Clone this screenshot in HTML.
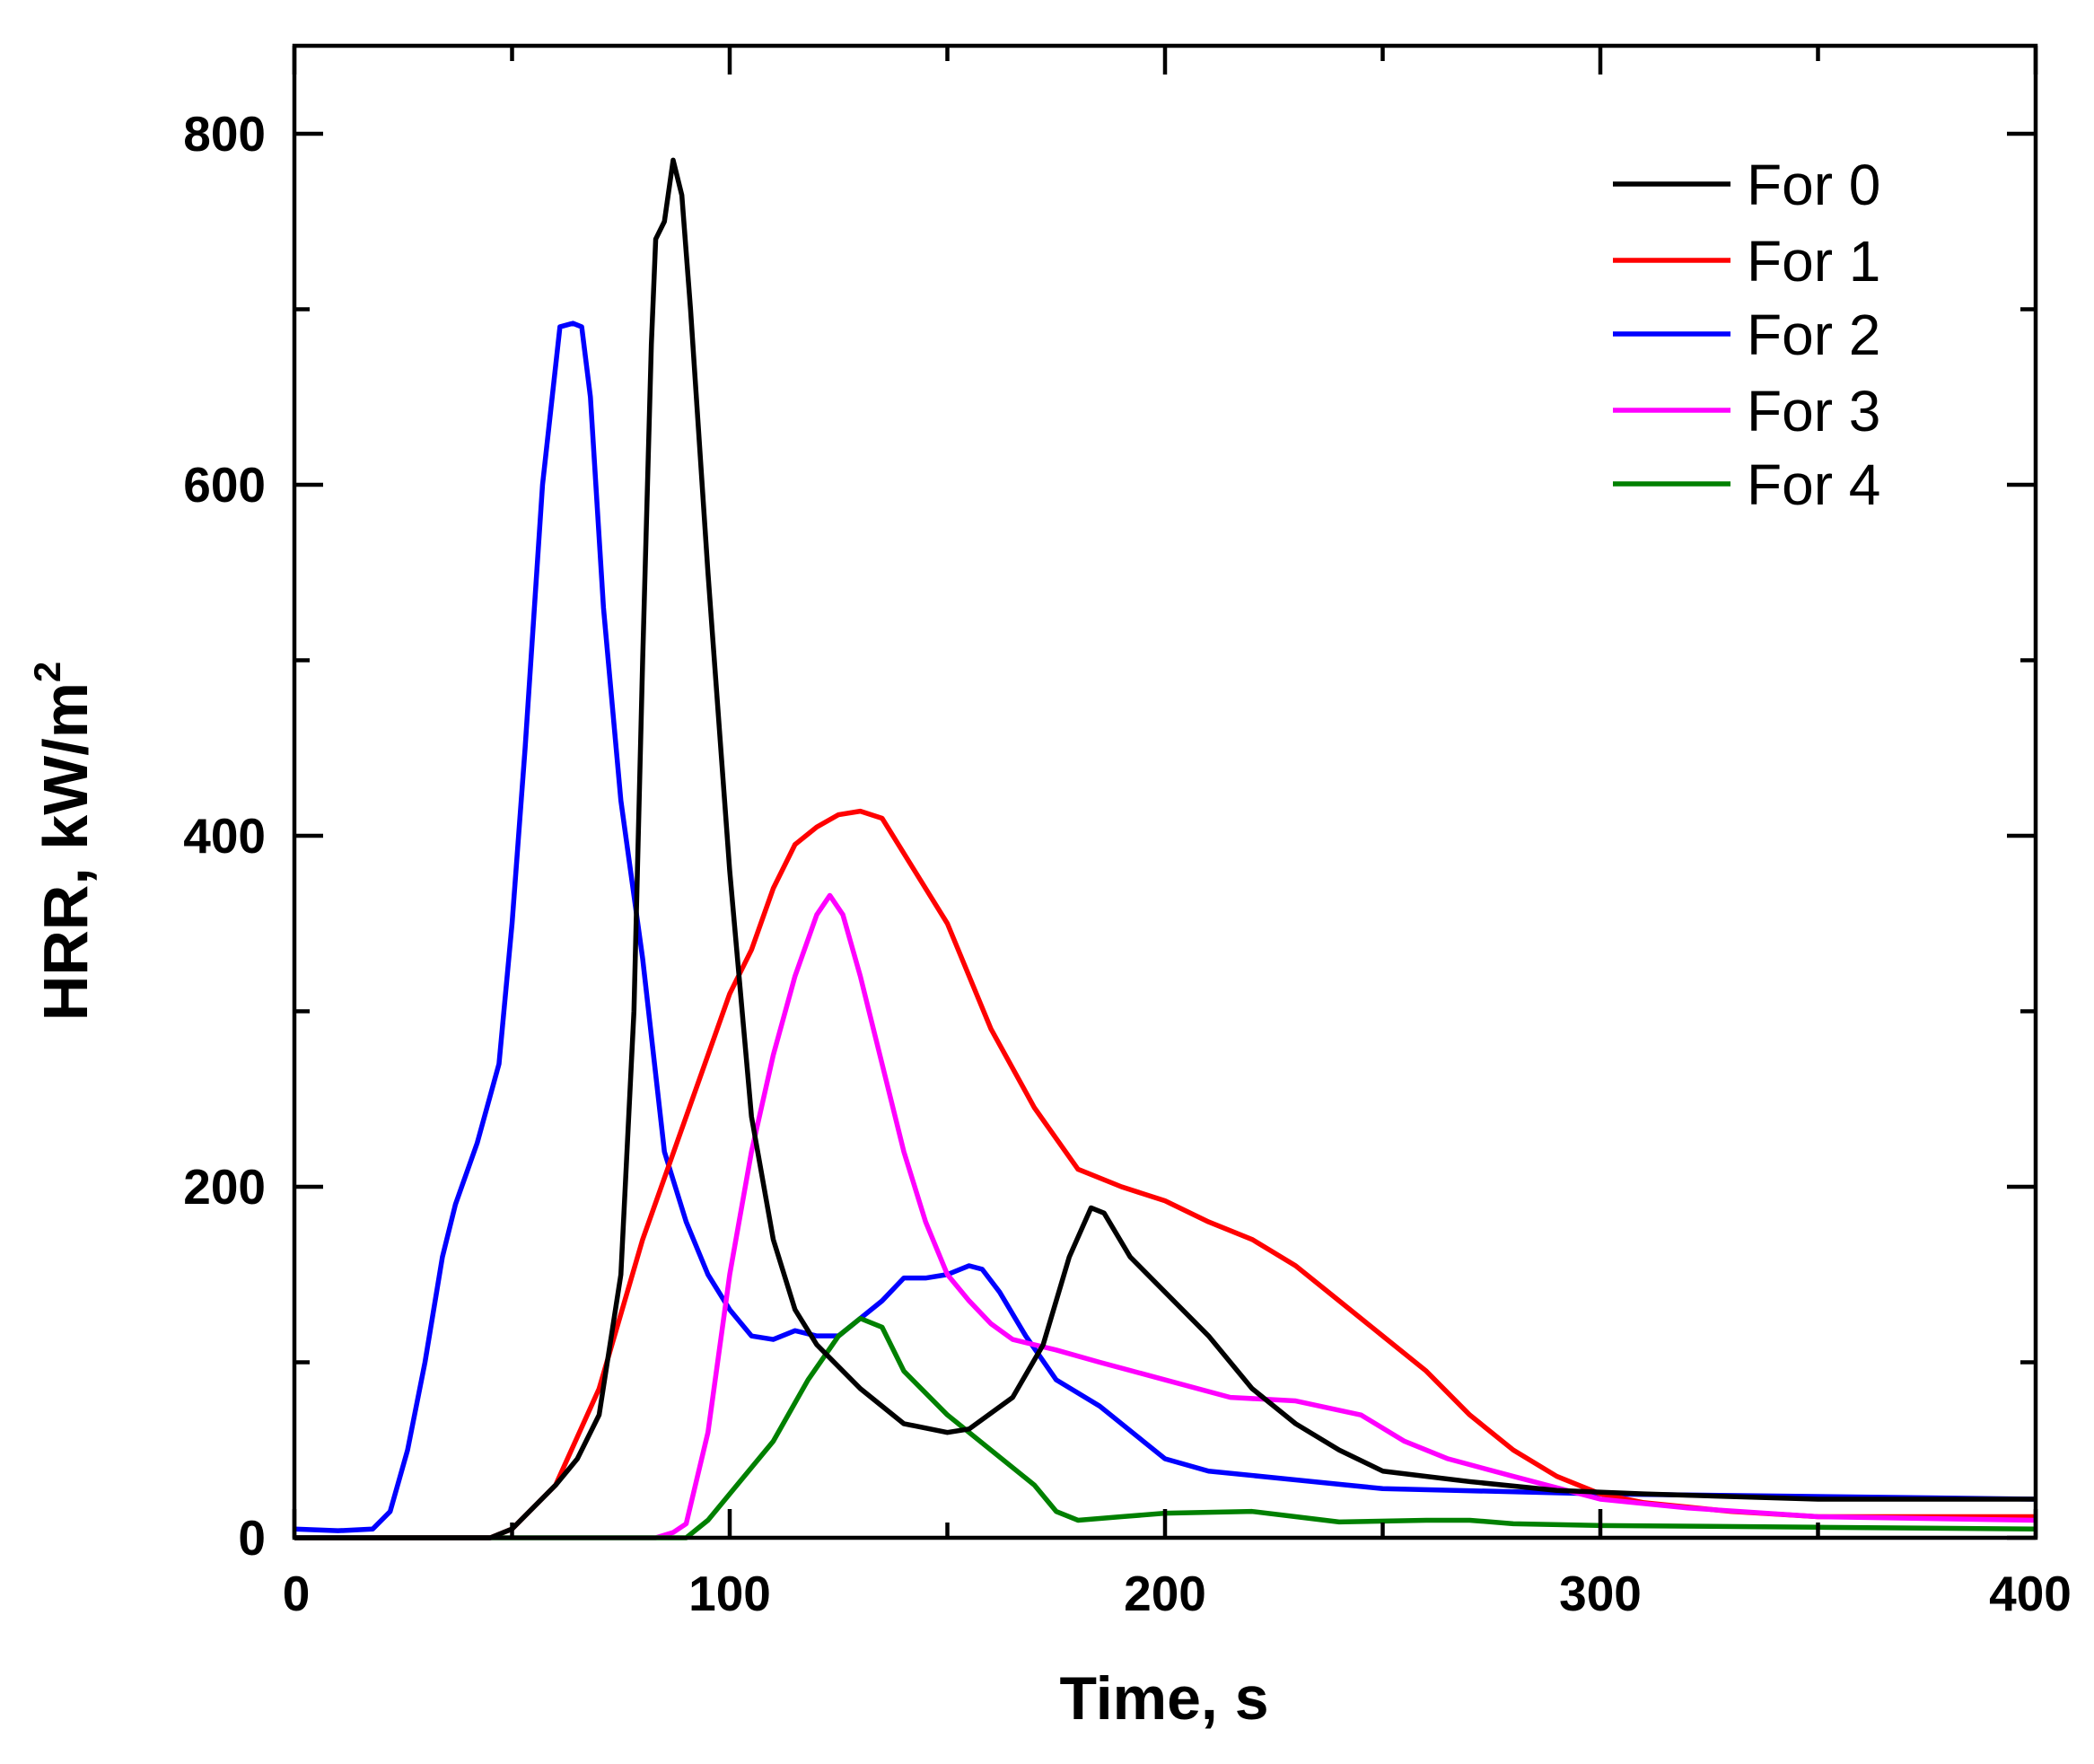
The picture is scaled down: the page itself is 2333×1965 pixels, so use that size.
<!DOCTYPE html>
<html><head><style>body{margin:0;background:#fff}svg{display:block}</style></head><body>
<svg width="2333" height="1965" xmlns="http://www.w3.org/2000/svg" font-family="Liberation Sans, Arial, sans-serif">
<rect width="2333" height="1965" fill="#fff"/>
<g transform="translate(328,1713) scale(4.85,-1.955)" fill="none" stroke-width="5.5" stroke-linejoin="round">
<polyline vector-effect="non-scaling-stroke" stroke="#0000ff" points="0,5 10,4 18,5 22,15 26,50 30,100 34,160 37,190 42,225 47,270 50,350 53,450 57,600 61,690 64,692 66,690 68,650 71,530 75,420 80,330 85,220 90,180 95,150 100,130 105,115 110,113 115,118 120,115 125,115 130,125 135,135 140,148 145,148 150,150 155,155 158,153 162,140 168,115 175,90 185,75 195,55 200,45 210,38 230,33 250,28 300,25 400,22"/>
<polyline vector-effect="non-scaling-stroke" stroke="#ff0000" points="0,0 45,0 50,5 60,30 70,85 80,170 90,240 100,310 105,335 110,370 115,395 120,405 125,412 130,414 135,410 140,390 150,350 160,290 170,245 180,210 190,200 200,192 210,180 220,170 230,155 240,135 250,115 260,95 270,70 280,50 290,35 300,25 310,20 330,15 350,12 400,12"/>
<polyline vector-effect="non-scaling-stroke" stroke="#ff00ff" points="0,0 83,0 87,3 90,8 95,60 100,150 105,220 110,275 115,320 120,355 123,366 126,355 130,320 135,270 140,220 145,180 150,150 155,135 160,122 165,113 175,107 185,100 200,90 215,80 230,78 245,70 255,55 265,45 280,35 300,22 320,17 350,12 400,10"/>
<polyline vector-effect="non-scaling-stroke" stroke="#008000" points="0,0 90,0 95,10 100,25 110,55 118,90 125,115 130,125 135,120 140,95 150,70 160,50 170,30 175,15 180,10 190,12 200,14 220,15 230,12 240,9 260,10 270,10 280,8 300,7 350,6 400,5"/>
<polyline vector-effect="non-scaling-stroke" stroke="#000000" points="0,0 45,0 50,5 60,30 65,45 70,70 75,150 78,300 80,500 82,680 83,740 85,750 87,785 89,765 91,700 95,550 100,380 105,240 110,170 115,130 120,110 130,85 140,65 150,60 155,62 165,80 172,110 178,160 183,188 186,185 192,160 200,140 210,115 220,85 230,65 240,50 250,38 270,32 290,27 310,25 350,22 400,22"/>
</g>
<g stroke="#000" stroke-width="4.5" fill="none">
<rect x="328" y="51" width="1940" height="1662"/>
<path d="M328,1713v-32M570.5,1713v-17M813,1713v-32M1055.5,1713v-17M1298,1713v-32M1540.5,1713v-17M1783,1713v-32M2025.5,1713v-17M2268,1713v-32
M328,51v32M570.5,51v17M813,51v32M1055.5,51v17M1298,51v32M1540.5,51v17M1783,51v32M2025.5,51v17M2268,51v32"/>
<path d="M328,1713h32M328,1517.5h17M328,1322h32M328,1126.5h17M328,931h32M328,735.5h17M328,540h32M328,344.5h17M328,149h32
M2268,1713h-32M2268,1517.5h-17M2268,1322h-32M2268,1126.5h-17M2268,931h-32M2268,735.5h-17M2268,540h-32M2268,344.5h-17M2268,149h-32"/>
</g>
<g font-weight="bold" font-size="55" fill="#000">
<g text-anchor="end">
<text x="296" y="168">800</text><text x="296" y="559">600</text><text x="296" y="950">400</text><text x="296" y="1341">200</text><text x="296" y="1732">0</text>
</g>
<g text-anchor="middle">
<text x="330" y="1794">0</text><text x="813" y="1794">100</text><text x="1298" y="1794">200</text><text x="1783" y="1794">300</text><text x="2262" y="1794">400</text>
<text x="1297" y="1915" font-size="68">Time, s</text>
<text transform="translate(97,937) rotate(-90)" font-size="70">HRR, kW/m<tspan dy="-30" font-size="42">2</tspan></text>
</g>
</g>
<g stroke-width="5.5">
<line x1="1797" y1="205" x2="1928" y2="205" stroke="#000"/>
<line x1="1797" y1="290" x2="1928" y2="290" stroke="#f00"/>
<line x1="1797" y1="372" x2="1928" y2="372" stroke="#00f"/>
<line x1="1797" y1="457" x2="1928" y2="457" stroke="#f0f"/>
<line x1="1797" y1="539" x2="1928" y2="539" stroke="#008000"/>
</g>
<g font-size="64" fill="#000">
<text x="1946" y="228">For 0</text><text x="1946" y="313">For 1</text><text x="1946" y="395">For 2</text><text x="1946" y="480">For 3</text><text x="1946" y="562">For 4</text>
</g>
</svg>
</body></html>
